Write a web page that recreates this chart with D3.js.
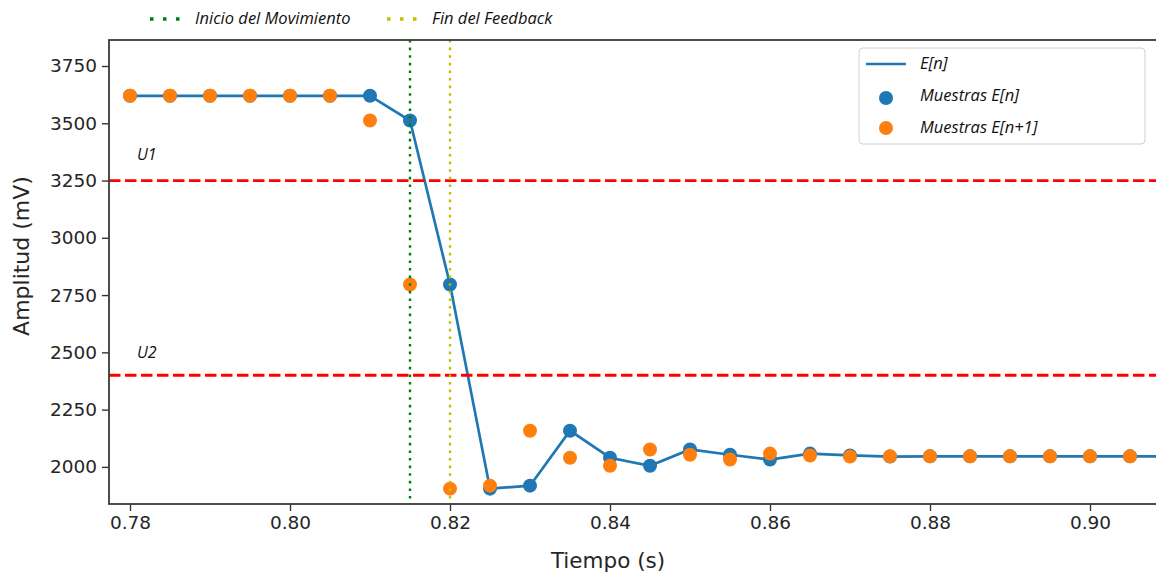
<!DOCTYPE html>
<html lang="en">
<head>
	<meta charset="utf-8">
	<script src="https://d3js.org/d3.v7.min.js"></script>
	<style>
	body { margin: 0; background: #fff; }
	text { font-family: "DejaVu Sans", sans-serif; fill: #262626; }
	.leg { font-family: "Open Sans", sans-serif; font-style: italic; font-size: 16.5px; fill: #111; }
	</style>
</head>
<body>
	<script>
	// Sample times (s)
	var tiempo = [0.78, 0.785, 0.79, 0.795, 0.80, 0.805, 0.81, 0.815, 0.82, 0.825, 0.83, 0.835, 0.84,
		0.845, 0.85, 0.855, 0.86, 0.865, 0.87, 0.875, 0.88, 0.885, 0.89, 0.895, 0.90, 0.905, 0.91];
	// E[n] in mV
	var eN = [3620, 3620, 3620, 3620, 3620, 3620, 3620, 3512, 2796, 1905, 1918, 2158, 2040,
		2005, 2076, 2053, 2032, 2058, 2050, 2045, 2046, 2046, 2046, 2046, 2046, 2046, 2046];
	// E[n+1] samples, plotted at time n
	var eN1 = [3620, 3620, 3620, 3620, 3620, 3620, 3512, 2796, 1905, 1918, 2158, 2040, 2005,
		2076, 2053, 2032, 2058, 2050, 2045, 2046, 2046, 2046, 2046, 2046, 2046, 2046];

	var umbrales = [3250, 2400];
	var umbralLabels = ["U1", "U2"];
	var umbralLabelY = [3340, 2475];
	var eventos = [0.815, 0.82];
	var eventoLabels = ["Inicio del Movimiento", "Fin del Feedback"];
	var eventoColors = ["#008000", "#bfbf00"];

	var xTicks = [0.78, 0.80, 0.82, 0.84, 0.86, 0.88, 0.90];
	var yTicks = [2000, 2250, 2500, 2750, 3000, 3250, 3500, 3750];

	var w = 1156, h = 575;
	var mLeft = 109, mTop = 40, mRight = 1158, mBottom = 504;

	var svg = d3.select("body").append("svg").attr("width", w).attr("height", h);

	var x = d3.scaleLinear().domain([0.777375, 0.9085]).range([mLeft, mRight]);
	var y = d3.scaleLinear().domain([1838, 3863.5]).range([mBottom, mTop]);

	svg.append("clipPath").attr("id", "clip")
		.append("rect").attr("x", mLeft).attr("y", mTop).attr("width", mRight - mLeft).attr("height", mBottom - mTop);

	var plot = svg.append("g").attr("clip-path", "url(#clip)");

	// E[n] line
	plot.append("path")
		.datum(tiempo.map(function(t, i) { return [t, eN[i]]; }))
		.attr("fill", "none")
		.attr("stroke", "#1f77b4")
		.attr("stroke-width", 2.7)
		.attr("d", d3.line().x(function(d) { return x(d[0]); }).y(function(d) { return y(d[1]); }));

	// blue samples
	plot.selectAll("circle.en")
		.data(tiempo.slice(0, 26))
		.enter().append("circle")
		.attr("class", "en")
		.attr("cx", function(d) { return x(d); })
		.attr("cy", function(d, i) { return y(eN[i]); })
		.attr("r", 7)
		.attr("fill", "#1f77b4");

	// orange samples
	plot.selectAll("circle.en1")
		.data(eN1)
		.enter().append("circle")
		.attr("class", "en1")
		.attr("cx", function(d, i) { return x(tiempo[i]); })
		.attr("cy", function(d) { return y(d); })
		.attr("r", 7)
		.attr("fill", "#ff7f0e");

	// thresholds
	plot.selectAll("line.umbral")
		.data(umbrales)
		.enter().append("line")
		.attr("x1", mLeft).attr("x2", mRight)
		.attr("y1", function(d) { return y(d); })
		.attr("y2", function(d) { return y(d); })
		.attr("stroke", "#ff0000")
		.attr("stroke-width", 2.8)
		.attr("stroke-dasharray", "11.5,4.5");

	svg.selectAll("text.ulab")
		.data(umbralLabelY)
		.enter().append("text")
		.attr("class", "leg")
		.style("font-size", "16px")
		.attr("x", x(0.78) + 7)
		.attr("y", function(d) { return y(d); })
		.text(function(d, i) { return umbralLabels[i]; });

	// event lines
	plot.selectAll("line.evento")
		.data(eventos)
		.enter().append("line")
		.attr("x1", function(d) { return x(d); })
		.attr("x2", function(d) { return x(d); })
		.attr("y1", mTop).attr("y2", mBottom)
		.attr("stroke", function(d, i) { return eventoColors[i]; })
		.attr("stroke-width", 2.4)
		.attr("stroke-dasharray", "2.6,5");

	// axes
	var xAxis = d3.axisBottom(x).tickValues(xTicks).tickSize(7).tickPadding(5).tickFormat(d3.format(".2f"));
	var yAxis = d3.axisLeft(y).tickValues(yTicks).tickSize(7).tickPadding(5).tickFormat(d3.format("d"));

	var gx = svg.append("g").attr("transform", "translate(0," + mBottom + ")").call(xAxis);
	var gy = svg.append("g").attr("transform", "translate(" + mLeft + ",0)").call(yAxis);
	[gx, gy].forEach(function(g) {
		g.select(".domain").remove();
		g.selectAll(".tick line").attr("stroke", "#333").attr("stroke-width", 1.4);
		g.selectAll(".tick text").style("font-family", "DejaVu Sans").style("font-size", "18.5px").attr("fill", "#262626");
	});

	// frame
	svg.append("rect")
		.attr("x", mLeft).attr("y", mTop)
		.attr("width", mRight - mLeft).attr("height", mBottom - mTop)
		.attr("fill", "none").attr("stroke", "#3a3a3a").attr("stroke-width", 1.8);

	svg.append("text")
		.attr("text-anchor", "middle")
		.style("font-size", "22px")
		.attr("transform", "translate(29,256) rotate(-90)")
		.text("Amplitud (mV)");

	svg.append("text")
		.attr("text-anchor", "middle")
		.style("font-size", "21.5px")
		.attr("x", 608).attr("y", 568)
		.text("Tiempo (s)");

	// top legend
	var topLeg = svg.selectAll("g.topleg")
		.data(eventoLabels)
		.enter().append("g")
		.attr("transform", function(d, i) { return "translate(" + (150 + i * 237) + ",19)"; });
	topLeg.append("line")
		.attr("x1", 0).attr("x2", 32).attr("y1", 0).attr("y2", 0)
		.attr("stroke", function(d, i) { return eventoColors[i]; })
		.attr("stroke-width", 3.5)
		.attr("stroke-dasharray", "3.5,9.5");
	topLeg.append("text")
		.attr("class", "leg")
		.attr("x", 45).attr("y", 5)
		.text(function(d) { return d; });

	// right legend
	var lg = svg.append("g").attr("transform", "translate(859,48)");
	lg.append("rect")
		.attr("width", 286).attr("height", 96).attr("rx", 4)
		.attr("fill", "#fff").attr("stroke", "#d0d0d0").attr("stroke-width", 1);
	lg.append("line")
		.attr("x1", 7).attr("x2", 47).attr("y1", 16).attr("y2", 16)
		.attr("stroke", "#1f77b4").attr("stroke-width", 2.7);
	lg.append("circle").attr("cx", 27).attr("cy", 50).attr("r", 7).attr("fill", "#1f77b4");
	lg.append("circle").attr("cx", 27).attr("cy", 80).attr("r", 7).attr("fill", "#ff7f0e");
	lg.selectAll("text.ll")
		.data(["E[n]", "Muestras E[n]", "Muestras E[n+1]"])
		.enter().append("text")
		.attr("class", "leg")
		.attr("x", 61)
		.attr("y", function(d, i) { return 21 + i * 32; })
		.text(function(d) { return d; });
	</script>
</body>
</html>
